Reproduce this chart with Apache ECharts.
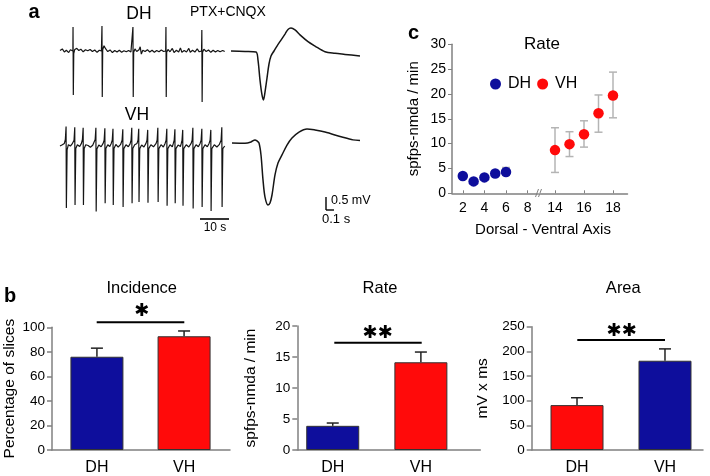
<!DOCTYPE html>
<html><head><meta charset="utf-8">
<script src="https://cdn.jsdelivr.net/npm/echarts@6/dist/echarts.min.js"></script>
<style>html,body{margin:0;padding:0;background:#fff}#c{width:710px;height:476px}</style>
</head><body><div id="c"></div>
<script>
// ---------- DATA ----------
// Panel a: raw recordings (time s, mV)
const DH_TRACE = [[0,0.02],[0.8,0.08],[1.5,-0.04],[2.2,0.03],[3.0,-0.06],[3.6,0.05],[4.2,0.0],[4.45,0.0],[4.5,0.92],[4.6,-1.69],[4.75,-0.1],[5.1,0.06],[5.8,0.1],[6.5,0.02],[7.2,0.07],[8.0,-0.03],[8.8,0.05],[9.6,0.01],[10.4,0.06],[11.2,-0.02],[12.0,0.04],[12.8,-0.05],[13.6,0.03],[14.3,0.0],[14.45,0.0],[14.5,0.96],[14.6,-1.77],[14.75,0.05],[15.2,0.2],[15.8,0.08],[16.5,-0.02],[17.3,0.04],[18.1,-0.06],[18.9,0.02],[19.7,-0.04],[20.5,0.03],[21.3,-0.05],[22.1,0.01],[22.9,-0.03],[23.7,0.02],[24.5,-0.04],[25.1,0.0],[25.15,0.0],[25.2,0.92],[25.3,-1.77],[25.45,-0.05],[25.9,0.08],[26.5,-0.02],[27.3,0.05],[27.7,0.16],[28.1,-0.12],[28.6,0.03],[29.4,-0.02],[30.2,0.05],[31.0,-0.04],[31.8,0.03],[32.6,-0.05],[33.4,0.02],[34.2,-0.03],[35.0,0.04],[35.8,-0.02],[36.5,0.0],[36.55,0.0],[36.6,0.92],[36.7,-1.77],[36.85,-0.05],[37.3,0.06],[38.0,-0.03],[38.8,0.1],[39.4,-0.06],[40.2,0.03],[41.0,-0.04],[41.6,0.12],[42.1,-0.05],[42.9,0.02],[43.7,-0.04],[44.5,0.1],[45.0,-0.05],[45.8,0.03],[46.6,-0.04],[47.4,0.08],[48.1,-0.03],[48.9,0.0],[48.95,0.0],[49.0,0.81],[49.1,-1.96],[49.25,-0.05],[49.7,0.07],[50.5,-0.02],[51.3,0.04],[52.1,-0.05],[52.9,0.03],[53.7,-0.04],[54.5,0.02],[55.3,-0.03],[56.2,0.02],[56.9,-0.02]];
const VH_TRACE = [[0,0.0],[0.8,0.05],[1.5,0.1],[1.85,0.25],[2.1,0.75],[2.2,-2.38],[2.45,-0.15],[2.9,0.05],[3.6,0.0],[4.2,0.08],[4.85,0.22],[5.1,0.72],[5.2,-2.27],[5.45,-0.1],[6.0,0.05],[6.8,-0.02],[7.4,0.1],[7.75,0.25],[8.0,0.70],[8.1,-2.27],[8.35,-0.1],[8.9,0.05],[9.7,0.02],[10.5,-0.05],[11.3,0.03],[11.9,0.1],[12.15,0.25],[12.4,0.70],[12.5,-2.52],[12.75,-0.12],[13.4,0.04],[14.2,-0.03],[14.9,0.1],[15.25,0.22],[15.5,0.68],[15.6,-2.2],[15.85,-0.1],[16.5,0.05],[17.2,-0.02],[17.7,0.1],[18.05,0.22],[18.3,0.66],[18.4,-2.27],[18.65,-0.1],[19.3,0.06],[20.1,-0.04],[20.9,0.05],[21.45,0.22],[21.7,0.64],[21.8,-2.35],[22.05,-0.1],[22.8,0.05],[23.6,-0.03],[24.2,0.08],[24.55,0.22],[24.8,0.70],[24.9,-2.2],[25.15,-0.1],[25.8,0.05],[26.6,0.1],[26.95,0.22],[27.2,0.66],[27.3,-2.15],[27.55,-0.1],[28.2,0.04],[29.0,-0.04],[29.7,0.1],[30.05,0.22],[30.3,0.62],[30.4,-2.18],[30.65,-0.1],[31.4,0.05],[32.3,-0.03],[33.2,0.1],[33.55,0.22],[33.8,0.70],[33.9,-2.15],[34.15,-0.1],[34.9,0.05],[35.7,-0.04],[36.3,0.1],[36.65,0.22],[36.9,0.66],[37.0,-2.3],[37.25,-0.1],[38.0,0.05],[38.8,-0.03],[39.15,0.1],[39.45,0.22],[39.7,0.64],[39.8,-2.2],[40.05,-0.1],[40.8,0.04],[41.6,-0.02],[41.9,0.1],[42.15,0.22],[42.4,0.62],[42.5,-2.3],[42.75,-0.1],[43.6,0.05],[44.5,-0.04],[45.3,0.1],[45.65,0.22],[45.9,0.70],[46.0,-2.4],[46.25,-0.1],[47.0,0.05],[47.8,-0.03],[48.4,0.1],[48.75,0.22],[49.0,0.66],[49.1,-2.35],[49.35,-0.1],[50.1,0.05],[50.9,-0.03],[51.5,0.1],[51.85,0.22],[52.1,0.62],[52.2,-2.5],[52.45,-0.1],[53.3,0.05],[54.2,-0.04],[55.0,0.05],[55.3,0.1],[55.65,0.22],[55.9,0.72],[56.0,-2.35],[56.25,-0.1],[56.9,0.0]];
// Panel a: averaged events (time s, mV)
const DH_AVG = [[0,0],[0.175,-0.02],[0.3125,-0.04],[0.3375,-0.35],[0.3625,-1.12],[0.3875,-1.69],[0.406,-1.88],[0.425,-1.58],[0.45,-1.04],[0.475,-0.5],[0.5,-0.19],[0.5375,0],[0.575,0.19],[0.625,0.42],[0.675,0.65],[0.7125,0.83],[0.75,0.88],[0.8,0.81],[0.8625,0.62],[0.9625,0.36],[1.05,0.19],[1.175,-0.03],[1.3,-0.09],[1.425,-0.13],[1.6125,-0.19]];
const VH_AVG = [[0,0],[0.1625,-0.01],[0.2375,0.04],[0.2875,0.12],[0.3125,0.08],[0.3375,0],[0.3625,-0.46],[0.3875,-1.42],[0.4125,-2.08],[0.45,-2.38],[0.475,-2.31],[0.5,-2.0],[0.5375,-1.23],[0.575,-0.77],[0.625,-0.46],[0.6875,-0.08],[0.75,0.19],[0.8375,0.42],[0.9375,0.54],[1.0375,0.5],[1.1625,0.42],[1.375,0.23],[1.5125,0.12],[1.6,0.1]];

// Panel c: rate along dorsal-ventral axis
const C_DH_X = [2,3,4,5,6];
const C_DH_Y = [3.5,2.4,3.2,4.0,4.3];
const C_DH_LO = [3.1,2.0,2.8,3.6,3.6];
const C_DH_HI = [3.9,2.8,3.6,4.4,5.2];
const C_VH_X = [14,15,16,17,18];
const C_VH_Y = [8.7,9.9,11.9,16.1,19.7];
const C_VH_LO = [4.2,7.4,9.3,12.3,15.2];
const C_VH_HI = [13.2,12.4,14.6,19.8,24.4];
const C_X_TICKS_L = [2,4,6,8];
const C_X_TICKS_R = [14,16,18];

// Panel b: bar charts
const GROUPS = ['DH','VH'];
const INCIDENCE = [76,92.7];
const INCIDENCE_ERR = [83,97];
const RATE = [3.9,14.15];
const RATE_ERR = [4.35,15.8];
const AREA = [91,181];
const AREA_ERR = [106,205];

// ---------- STYLE ----------
const FONT = "'Liberation Sans', Arial, sans-serif";
const BLUE = '#0e0e9c', RED = '#ff0a0a', AX = '#808080', TRACE = '#151515';

const chart = echarts.init(document.getElementById('c'), null, {renderer:'canvas'});

function hidden(i, min, max){ return {gridIndex:i, type:'value', min, max, show:false}; }

function barX(i, min, max){
  return {gridIndex:i, type:'value', min, max,
    axisLine:{lineStyle:{color:AX, width:1.5}}, axisTick:{show:false},
    axisLabel:{customValues:[1,2], formatter:v=>GROUPS[Math.round(v)-1], color:'#000', fontSize:16, fontFamily:FONT, margin:10},
    splitLine:{show:false}};
}
function barY(i, max, interval, name, gap){
  return {gridIndex:i, type:'value', min:0, max, interval,
    name, nameLocation:'middle', nameGap:gap, nameTextStyle:{color:'#000', fontSize:15.5, fontFamily:FONT},
    axisLine:{show:true, lineStyle:{color:AX, width:1.5}}, axisTick:{show:true, length:5, lineStyle:{color:AX, width:1.5}},
    axisLabel:{color:'#000', fontSize:13.5, fontFamily:FONT, margin:7}, splitLine:{show:false}};
}
function barErr(params, api){
  const x=api.value(0), v=api.value(1), hi=api.value(2);
  const a=api.coord([x,v]), b=api.coord([x,hi]);
  return {type:'group', children:[
    {type:'line', shape:{x1:a[0],y1:a[1],x2:b[0],y2:b[1]}, style:{stroke:'#222', lineWidth:1.5}},
    {type:'line', shape:{x1:b[0]-6,y1:b[1],x2:b[0]+6,y2:b[1]}, style:{stroke:'#222', lineWidth:1.5}}]};
}
function dotErr(params, api){
  const x=api.value(0), lo=api.value(1), hi=api.value(2);
  const a=api.coord([x,hi]), b=api.coord([x,lo]);
  const st={stroke:'#b4b4b4', lineWidth:1.5};
  return {type:'group', children:[
    {type:'line', shape:{x1:a[0],y1:a[1],x2:b[0],y2:b[1]}, style:st},
    {type:'line', shape:{x1:a[0]-4,y1:a[1],x2:a[0]+4,y2:a[1]}, style:st},
    {type:'line', shape:{x1:b[0]-4,y1:b[1],x2:b[0]+4,y2:b[1]}, style:st}]};
}
function bars(i, vals, colors){
  return {type:'bar', xAxisIndex:i, yAxisIndex:i, barWidth:53,
    data: vals.map((v,k)=>({value:[k+1,v], itemStyle:{color:colors[k], borderColor:'#333', borderWidth:1}}))};
}
function errs(i, vals, his){
  return {type:'custom', xAxisIndex:i, yAxisIndex:i, renderItem:barErr, clip:false, z:5,
    data: vals.map((v,k)=>[k+1, v, his[k]])};
}
function cX(i, min, max, ticks){
  return {gridIndex:i, type:'value', min, max,
    axisLine:{lineStyle:{color:AX, width:1.5}},
    axisTick:{show:true, inside:true, length:3, customValues:ticks, lineStyle:{color:AX}},
    axisLabel:{customValues:ticks, color:'#000', fontSize:14, fontFamily:FONT, margin:8}, splitLine:{show:false}};
}

const txt = (text, x, y, size, opt={}) => ({type:'text', x, y, silent:true,
  style:Object.assign({text, fill:'#000', font:`${opt.bold?'bold ':''}${size}px ${opt.family||FONT}`, align:opt.align||'center', verticalAlign:'middle'}, opt.style||{})});
const seg = (x1,y1,x2,y2,w,c) => ({type:'line', silent:true, shape:{x1,y1,x2,y2}, style:{stroke:c||'#000', lineWidth:w||2}});
const STAR = "'DejaVu Sans', sans-serif";

chart.setOption({
  animation:false,
  grid:[
    {left:60, top:25, width:165, height:78},      // 0 DH raw
    {left:60, top:120, width:165, height:93.6},   // 1 VH raw
    {left:231, top:25, width:129, height:78},     // 2 DH avg
    {left:232, top:117, width:128, height:93.6},  // 3 VH avg
    {left:452, top:44.3, width:86.4, height:149}, // 4 c left
    {left:540.5, top:44.3, width:87, height:149}, // 5 c right
    {left:52, top:327.3, width:178, height:129.4},// 6 incidence
    {left:297.3, top:326, width:183, height:130.7},// 7 rate
    {left:531.7, top:326.7, width:171.3, height:130} // 8 area
  ],
  xAxis:[
    hidden(0,0,57), hidden(1,0,57), hidden(2,0,1.6125), hidden(3,0,1.6),
    cX(4,1,9,C_X_TICKS_L), cX(5,13,19,C_X_TICKS_R),
    barX(6,0.4845,2.527), barX(7,0.598,2.674), barX(8,0.485,2.432)
  ],
  yAxis:[
    hidden(0,-2,1), hidden(1,-2.6,1), hidden(2,-2,1), hidden(3,-2.6,1),
    {gridIndex:4, type:'value', min:0, max:30, interval:5,
      name:'spfps-nmda / min', nameLocation:'middle', nameGap:31, nameTextStyle:{color:'#000', fontSize:15, fontFamily:FONT},
      axisLine:{show:true, lineStyle:{color:AX, width:1.5}}, axisTick:{show:true, length:4, lineStyle:{color:AX}},
      axisLabel:{color:'#000', fontSize:14, fontFamily:FONT, margin:6}, splitLine:{show:false}},
    {gridIndex:5, type:'value', min:0, max:30, show:false},
    barY(6,100,20,'Percentage of slices',34),
    barY(7,20,5,'spfps-nmda / min',39),
    barY(8,250,50,'mV x ms',41)
  ],
  legend:{data:['DH','VH'], left:485, top:71, padding:5, icon:'circle', itemWidth:11, itemHeight:11, itemGap:6,
    textStyle:{fontSize:16, fontFamily:FONT, color:'#000', padding:[0,0,0,2]}},
  series:[
    {type:'line', xAxisIndex:0, yAxisIndex:0, data:DH_TRACE, showSymbol:false, symbol:'none', lineStyle:{color:TRACE, width:1.2}},
    {type:'line', xAxisIndex:1, yAxisIndex:1, data:VH_TRACE, showSymbol:false, symbol:'none', lineStyle:{color:TRACE, width:1.2}},
    {type:'line', xAxisIndex:2, yAxisIndex:2, data:DH_AVG, showSymbol:false, symbol:'none', smooth:0.3, lineStyle:{color:TRACE, width:1.5}},
    {type:'line', xAxisIndex:3, yAxisIndex:3, data:VH_AVG, showSymbol:false, symbol:'none', smooth:0.3, lineStyle:{color:TRACE, width:1.5}},
    {type:'custom', xAxisIndex:4, yAxisIndex:4, renderItem:dotErr, clip:false, z:1,
      data:C_DH_X.map((x,k)=>[x,C_DH_LO[k],C_DH_HI[k]])},
    {type:'custom', xAxisIndex:5, yAxisIndex:5, renderItem:dotErr, clip:false, z:1,
      data:C_VH_X.map((x,k)=>[x,C_VH_LO[k],C_VH_HI[k]])},
    {name:'DH', type:'scatter', xAxisIndex:4, yAxisIndex:4, symbolSize:10.5, z:3, itemStyle:{color:BLUE, opacity:1},
      data:C_DH_X.map((x,k)=>[x,C_DH_Y[k]])},
    {name:'VH', type:'scatter', xAxisIndex:5, yAxisIndex:5, symbolSize:10.5, z:3, itemStyle:{color:RED, opacity:1},
      data:C_VH_X.map((x,k)=>[x,C_VH_Y[k]])},
    bars(6, INCIDENCE, [BLUE, RED]), errs(6, INCIDENCE, INCIDENCE_ERR),
    bars(7, RATE, [BLUE, RED]), errs(7, RATE, RATE_ERR),
    bars(8, AREA, [RED, BLUE]), errs(8, AREA, AREA_ERR)
  ],
  graphic:[
    // panel a
    txt('a', 34, 12, 20, {bold:true}),
    txt('DH', 139, 14, 17.5),
    txt('PTX+CNQX', 190, 12, 14, {align:'left'}),
    txt('VH', 137, 115, 17.5),
    seg(200,219,229,219,1.6),
    txt('10 s', 215, 228, 12),
    seg(326,197,326,210,1.4), seg(326,210,334,210,1.4),
    txt('0.5 mV', 331, 201, 12.5, {align:'left'}),
    txt('0.1 s', 322, 219, 13, {align:'left'}),
    // panel c
    txt('c', 413.5, 33, 20, {bold:true}),
    txt('Rate', 542, 44, 17),
    txt('Dorsal - Ventral Axis', 543, 230, 15),
    {type:'rect', silent:true, shape:{x:536, y:189, width:6, height:8}, style:{fill:'#fff'}},
    seg(535.5,197,538.5,189,1,AX), seg(538.5,197,541.5,189,1,AX),
    // panel b
    txt('b', 10, 296, 20, {bold:true}),
    txt('Incidence', 141.7, 288, 16.5),
    txt('Rate', 380, 288, 16.5),
    txt('Area', 623.3, 288, 16.5),
    seg(96.7,322.3,184.3,322.3,2), txt('\u2731', 141.7, 311.5, 18, {family:STAR}),
    seg(334.3,342.7,421.7,342.7,2), txt('\u2731\u2731', 377.7, 333.3, 18, {family:STAR}),
    seg(577.3,340,665,340,2), txt('\u2731\u2731', 621.7, 331.7, 18, {family:STAR})
  ]
});
</script></body></html>
